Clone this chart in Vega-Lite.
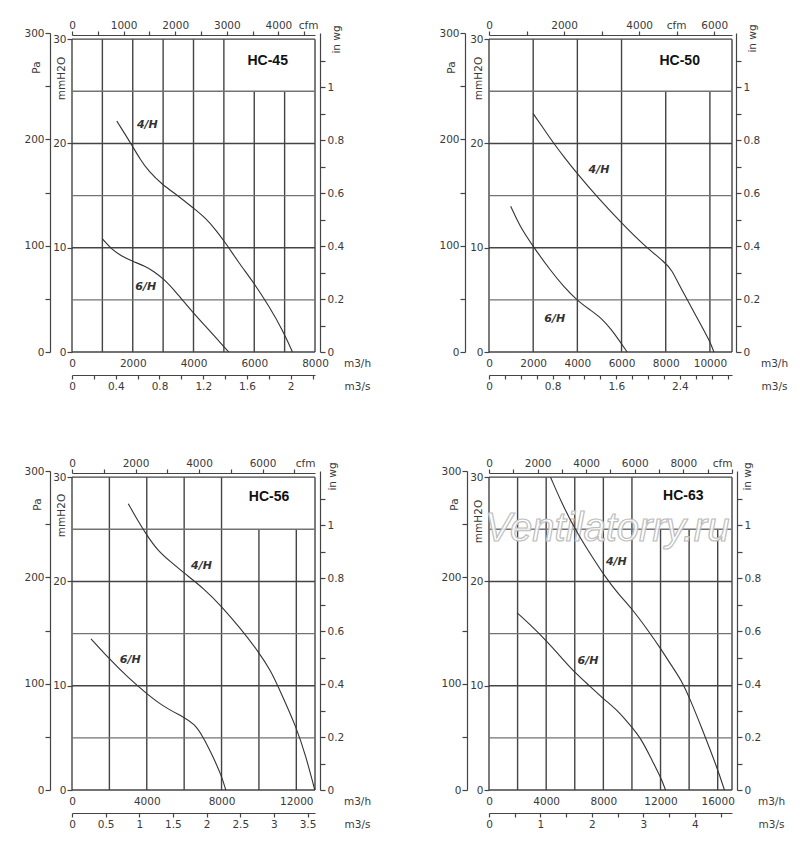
{
  "$schema": "https://vega.github.io/schema/vega-lite/v6.json",
  "background": "white",
  "padding": {"left": 23, "top": 20, "right": 5, "bottom": 5},
  "datasets": {
    "axes": [{"v": 0}],
    "curves": [
      {"panel": "HC-45", "series": "4/H", "x": 1476, "y": 22.14},
      {"panel": "HC-45", "series": "4/H", "x": 1993, "y": 19.74},
      {"panel": "HC-45", "series": "4/H", "x": 2247, "y": 18.46},
      {"panel": "HC-45", "series": "4/H", "x": 2522, "y": 17.34},
      {"panel": "HC-45", "series": "4/H", "x": 2963, "y": 16.06},
      {"panel": "HC-45", "series": "4/H", "x": 3513, "y": 14.94},
      {"panel": "HC-45", "series": "4/H", "x": 3987, "y": 13.82},
      {"panel": "HC-45", "series": "4/H", "x": 4394, "y": 12.86},
      {"panel": "HC-45", "series": "4/H", "x": 4725, "y": 11.74},
      {"panel": "HC-45", "series": "4/H", "x": 5055, "y": 10.46},
      {"panel": "HC-45", "series": "4/H", "x": 5496, "y": 8.54},
      {"panel": "HC-45", "series": "4/H", "x": 5991, "y": 6.62},
      {"panel": "HC-45", "series": "4/H", "x": 6487, "y": 4.38},
      {"panel": "HC-45", "series": "4/H", "x": 6927, "y": 2.14},
      {"panel": "HC-45", "series": "4/H", "x": 7258, "y": 0},
      {"panel": "HC-45", "series": "6/H", "x": 1002, "y": 10.85},
      {"panel": "HC-45", "series": "6/H", "x": 1311, "y": 9.82},
      {"panel": "HC-45", "series": "6/H", "x": 1641, "y": 9.18},
      {"panel": "HC-45", "series": "6/H", "x": 1993, "y": 8.7},
      {"panel": "HC-45", "series": "6/H", "x": 2412, "y": 8.22},
      {"panel": "HC-45", "series": "6/H", "x": 2687, "y": 7.74},
      {"panel": "HC-45", "series": "6/H", "x": 3018, "y": 7.01},
      {"panel": "HC-45", "series": "6/H", "x": 3403, "y": 5.82},
      {"panel": "HC-45", "series": "6/H", "x": 3987, "y": 3.74},
      {"panel": "HC-45", "series": "6/H", "x": 4504, "y": 2.14},
      {"panel": "HC-45", "series": "6/H", "x": 4890, "y": 0.86},
      {"panel": "HC-45", "series": "6/H", "x": 5165, "y": 0},
      {"panel": "HC-50", "series": "4/H", "x": 1994, "y": 22.88},
      {"panel": "HC-50", "series": "4/H", "x": 2447, "y": 21.5},
      {"panel": "HC-50", "series": "4/H", "x": 2931, "y": 20.0},
      {"panel": "HC-50", "series": "4/H", "x": 3429, "y": 18.62},
      {"panel": "HC-50", "series": "4/H", "x": 3988, "y": 17.12},
      {"panel": "HC-50", "series": "4/H", "x": 4864, "y": 14.94},
      {"panel": "HC-50", "series": "4/H", "x": 5997, "y": 12.38},
      {"panel": "HC-50", "series": "4/H", "x": 6979, "y": 10.3},
      {"panel": "HC-50", "series": "4/H", "x": 7991, "y": 8.54},
      {"panel": "HC-50", "series": "4/H", "x": 8263, "y": 7.9},
      {"panel": "HC-50", "series": "4/H", "x": 8640, "y": 6.3},
      {"panel": "HC-50", "series": "4/H", "x": 9018, "y": 4.86},
      {"panel": "HC-50", "series": "4/H", "x": 9547, "y": 2.78},
      {"panel": "HC-50", "series": "4/H", "x": 10000, "y": 1.02},
      {"panel": "HC-50", "series": "4/H", "x": 10181, "y": 0},
      {"panel": "HC-50", "series": "6/H", "x": 982, "y": 13.98},
      {"panel": "HC-50", "series": "6/H", "x": 1390, "y": 12.06},
      {"panel": "HC-50", "series": "6/H", "x": 1994, "y": 10.14},
      {"panel": "HC-50", "series": "6/H", "x": 2749, "y": 7.9},
      {"panel": "HC-50", "series": "6/H", "x": 3429, "y": 6.14},
      {"panel": "HC-50", "series": "6/H", "x": 3988, "y": 4.96},
      {"panel": "HC-50", "series": "6/H", "x": 4562, "y": 4.06},
      {"panel": "HC-50", "series": "6/H", "x": 5091, "y": 3.26},
      {"panel": "HC-50", "series": "6/H", "x": 5544, "y": 2.14},
      {"panel": "HC-50", "series": "6/H", "x": 5921, "y": 1.02},
      {"panel": "HC-50", "series": "6/H", "x": 6254, "y": 0},
      {"panel": "HC-56", "series": "4/H", "x": 3010, "y": 27.46},
      {"panel": "HC-56", "series": "4/H", "x": 3508, "y": 25.86},
      {"panel": "HC-56", "series": "4/H", "x": 4007, "y": 24.42},
      {"panel": "HC-56", "series": "4/H", "x": 4577, "y": 22.98},
      {"panel": "HC-56", "series": "4/H", "x": 5289, "y": 21.86},
      {"panel": "HC-56", "series": "4/H", "x": 6002, "y": 20.8},
      {"panel": "HC-56", "series": "4/H", "x": 7070, "y": 19.3},
      {"panel": "HC-56", "series": "4/H", "x": 7996, "y": 17.63},
      {"panel": "HC-56", "series": "4/H", "x": 9029, "y": 15.46},
      {"panel": "HC-56", "series": "4/H", "x": 9991, "y": 13.22},
      {"panel": "HC-56", "series": "4/H", "x": 10632, "y": 11.46},
      {"panel": "HC-56", "series": "4/H", "x": 11166, "y": 9.38},
      {"panel": "HC-56", "series": "4/H", "x": 12003, "y": 6.02},
      {"panel": "HC-56", "series": "4/H", "x": 12502, "y": 3.3},
      {"panel": "HC-56", "series": "4/H", "x": 12990, "y": 0},
      {"panel": "HC-56", "series": "6/H", "x": 1015, "y": 14.5},
      {"panel": "HC-56", "series": "6/H", "x": 1906, "y": 12.74},
      {"panel": "HC-56", "series": "6/H", "x": 2974, "y": 10.82},
      {"panel": "HC-56", "series": "6/H", "x": 4007, "y": 9.22},
      {"panel": "HC-56", "series": "6/H", "x": 4933, "y": 7.94},
      {"panel": "HC-56", "series": "6/H", "x": 6002, "y": 6.98},
      {"panel": "HC-56", "series": "6/H", "x": 6536, "y": 6.34},
      {"panel": "HC-56", "series": "6/H", "x": 6981, "y": 5.22},
      {"panel": "HC-56", "series": "6/H", "x": 7516, "y": 3.3},
      {"panel": "HC-56", "series": "6/H", "x": 7996, "y": 1.38},
      {"panel": "HC-56", "series": "6/H", "x": 8228, "y": 0},
      {"panel": "HC-63", "series": "4/H", "x": 4304, "y": 30.0},
      {"panel": "HC-63", "series": "4/H", "x": 5053, "y": 27.63},
      {"panel": "HC-63", "series": "4/H", "x": 5988, "y": 25.06},
      {"panel": "HC-63", "series": "4/H", "x": 6924, "y": 22.98},
      {"panel": "HC-63", "series": "4/H", "x": 8023, "y": 20.64},
      {"panel": "HC-63", "series": "4/H", "x": 9029, "y": 18.81},
      {"panel": "HC-63", "series": "4/H", "x": 10012, "y": 17.37},
      {"panel": "HC-63", "series": "4/H", "x": 11135, "y": 15.29},
      {"panel": "HC-63", "series": "4/H", "x": 12023, "y": 13.53},
      {"panel": "HC-63", "series": "4/H", "x": 12772, "y": 11.92},
      {"panel": "HC-63", "series": "4/H", "x": 13474, "y": 10.48},
      {"panel": "HC-63", "series": "4/H", "x": 14012, "y": 8.88},
      {"panel": "HC-63", "series": "4/H", "x": 14877, "y": 5.99},
      {"panel": "HC-63", "series": "4/H", "x": 16000, "y": 1.99},
      {"panel": "HC-63", "series": "4/H", "x": 16468, "y": 0},
      {"panel": "HC-63", "series": "6/H", "x": 1965, "y": 16.99},
      {"panel": "HC-63", "series": "6/H", "x": 2947, "y": 15.77},
      {"panel": "HC-63", "series": "6/H", "x": 4000, "y": 14.33},
      {"panel": "HC-63", "series": "6/H", "x": 5053, "y": 12.72},
      {"panel": "HC-63", "series": "6/H", "x": 5988, "y": 11.28},
      {"panel": "HC-63", "series": "6/H", "x": 7158, "y": 9.84},
      {"panel": "HC-63", "series": "6/H", "x": 8023, "y": 8.72},
      {"panel": "HC-63", "series": "6/H", "x": 9029, "y": 7.6},
      {"panel": "HC-63", "series": "6/H", "x": 10012, "y": 5.99},
      {"panel": "HC-63", "series": "6/H", "x": 10667, "y": 4.87},
      {"panel": "HC-63", "series": "6/H", "x": 11368, "y": 2.95},
      {"panel": "HC-63", "series": "6/H", "x": 12023, "y": 1.19},
      {"panel": "HC-63", "series": "6/H", "x": 12351, "y": 0}
    ],
    "labels": [
      {"panel": "HC-45", "kind": "curve", "text": "4/H", "x": 2480, "y": 21.8},
      {"panel": "HC-45", "kind": "curve", "text": "6/H", "x": 2430, "y": 6.2},
      {"panel": "HC-45", "kind": "title", "text": "HC-45", "x": 6443, "y": 27.95},
      {"panel": "HC-50", "kind": "curve", "text": "4/H", "x": 4980, "y": 17.5},
      {"panel": "HC-50", "kind": "curve", "text": "6/H", "x": 2976, "y": 3.2},
      {"panel": "HC-50", "kind": "title", "text": "HC-50", "x": 8633, "y": 27.95},
      {"panel": "HC-56", "kind": "curve", "text": "4/H", "x": 6928, "y": 21.5},
      {"panel": "HC-56", "kind": "curve", "text": "6/H", "x": 3117, "y": 12.5},
      {"panel": "HC-56", "kind": "title", "text": "HC-56", "x": 10543, "y": 28.1},
      {"panel": "HC-63", "kind": "curve", "text": "4/H", "x": 8912, "y": 21.86},
      {"panel": "HC-63", "kind": "curve", "text": "6/H", "x": 6924, "y": 12.4},
      {"panel": "HC-63", "kind": "title", "text": "HC-63", "x": 13591, "y": 28.2},
      {"panel": "HC-63", "kind": "mark", "text": "Ventilatorry.ru", "x": 8266, "y": 23.9}
    ],
    "grid": [
      {"panel": "HC-45", "kind": "line", "x": 0, "x2": 0, "y": 0, "y2": 30},
      {"panel": "HC-45", "kind": "line", "x": 1000, "x2": 1000, "y": 0, "y2": 30},
      {"panel": "HC-45", "kind": "line", "x": 2000, "x2": 2000, "y": 0, "y2": 30},
      {"panel": "HC-45", "kind": "line", "x": 3000, "x2": 3000, "y": 0, "y2": 30},
      {"panel": "HC-45", "kind": "line", "x": 4000, "x2": 4000, "y": 0, "y2": 30},
      {"panel": "HC-45", "kind": "line", "x": 5000, "x2": 5000, "y": 0, "y2": 30},
      {"panel": "HC-45", "kind": "line", "x": 6000, "x2": 6000, "y": 0, "y2": 25},
      {"panel": "HC-45", "kind": "line", "x": 7000, "x2": 7000, "y": 0, "y2": 25},
      {"panel": "HC-45", "kind": "line", "x": 8000, "x2": 8000, "y": 0, "y2": 30},
      {"panel": "HC-45", "kind": "line", "x": 0, "x2": 8000, "y": 0, "y2": 0},
      {"panel": "HC-45", "kind": "half", "x": 0, "x2": 8000, "y": 5, "y2": 5},
      {"panel": "HC-45", "kind": "line", "x": 0, "x2": 8000, "y": 10, "y2": 10},
      {"panel": "HC-45", "kind": "half", "x": 0, "x2": 8000, "y": 15, "y2": 15},
      {"panel": "HC-45", "kind": "line", "x": 0, "x2": 8000, "y": 20, "y2": 20},
      {"panel": "HC-45", "kind": "half", "x": 0, "x2": 8000, "y": 25, "y2": 25},
      {"panel": "HC-45", "kind": "line", "x": 0, "x2": 8000, "y": 30, "y2": 30},
      {"panel": "HC-50", "kind": "line", "x": 0, "x2": 0, "y": 0, "y2": 30},
      {"panel": "HC-50", "kind": "line", "x": 2000, "x2": 2000, "y": 0, "y2": 30},
      {"panel": "HC-50", "kind": "line", "x": 4000, "x2": 4000, "y": 0, "y2": 30},
      {"panel": "HC-50", "kind": "line", "x": 6000, "x2": 6000, "y": 0, "y2": 30},
      {"panel": "HC-50", "kind": "line", "x": 8000, "x2": 8000, "y": 0, "y2": 25},
      {"panel": "HC-50", "kind": "line", "x": 10000, "x2": 10000, "y": 0, "y2": 25},
      {"panel": "HC-50", "kind": "line", "x": 11000, "x2": 11000, "y": 0, "y2": 30},
      {"panel": "HC-50", "kind": "line", "x": 0, "x2": 11000, "y": 0, "y2": 0},
      {"panel": "HC-50", "kind": "half", "x": 0, "x2": 11000, "y": 5, "y2": 5},
      {"panel": "HC-50", "kind": "line", "x": 0, "x2": 11000, "y": 10, "y2": 10},
      {"panel": "HC-50", "kind": "half", "x": 0, "x2": 11000, "y": 15, "y2": 15},
      {"panel": "HC-50", "kind": "line", "x": 0, "x2": 11000, "y": 20, "y2": 20},
      {"panel": "HC-50", "kind": "half", "x": 0, "x2": 11000, "y": 25, "y2": 25},
      {"panel": "HC-50", "kind": "line", "x": 0, "x2": 11000, "y": 30, "y2": 30},
      {"panel": "HC-56", "kind": "line", "x": 0, "x2": 0, "y": 0, "y2": 30},
      {"panel": "HC-56", "kind": "line", "x": 2000, "x2": 2000, "y": 0, "y2": 30},
      {"panel": "HC-56", "kind": "line", "x": 4000, "x2": 4000, "y": 0, "y2": 30},
      {"panel": "HC-56", "kind": "line", "x": 6000, "x2": 6000, "y": 0, "y2": 30},
      {"panel": "HC-56", "kind": "line", "x": 8000, "x2": 8000, "y": 0, "y2": 30},
      {"panel": "HC-56", "kind": "line", "x": 10000, "x2": 10000, "y": 0, "y2": 25},
      {"panel": "HC-56", "kind": "line", "x": 12000, "x2": 12000, "y": 0, "y2": 25},
      {"panel": "HC-56", "kind": "line", "x": 13000, "x2": 13000, "y": 0, "y2": 30},
      {"panel": "HC-56", "kind": "line", "x": 0, "x2": 13000, "y": 0, "y2": 0},
      {"panel": "HC-56", "kind": "half", "x": 0, "x2": 13000, "y": 5, "y2": 5},
      {"panel": "HC-56", "kind": "line", "x": 0, "x2": 13000, "y": 10, "y2": 10},
      {"panel": "HC-56", "kind": "half", "x": 0, "x2": 13000, "y": 15, "y2": 15},
      {"panel": "HC-56", "kind": "line", "x": 0, "x2": 13000, "y": 20, "y2": 20},
      {"panel": "HC-56", "kind": "half", "x": 0, "x2": 13000, "y": 25, "y2": 25},
      {"panel": "HC-56", "kind": "line", "x": 0, "x2": 13000, "y": 30, "y2": 30},
      {"panel": "HC-63", "kind": "line", "x": 0, "x2": 0, "y": 0, "y2": 30},
      {"panel": "HC-63", "kind": "line", "x": 2000, "x2": 2000, "y": 0, "y2": 30},
      {"panel": "HC-63", "kind": "line", "x": 4000, "x2": 4000, "y": 0, "y2": 30},
      {"panel": "HC-63", "kind": "line", "x": 6000, "x2": 6000, "y": 0, "y2": 30},
      {"panel": "HC-63", "kind": "line", "x": 8000, "x2": 8000, "y": 0, "y2": 30},
      {"panel": "HC-63", "kind": "line", "x": 10000, "x2": 10000, "y": 0, "y2": 30},
      {"panel": "HC-63", "kind": "line", "x": 12000, "x2": 12000, "y": 0, "y2": 25},
      {"panel": "HC-63", "kind": "line", "x": 14000, "x2": 14000, "y": 0, "y2": 25},
      {"panel": "HC-63", "kind": "line", "x": 16000, "x2": 16000, "y": 0, "y2": 25},
      {"panel": "HC-63", "kind": "line", "x": 17000, "x2": 17000, "y": 0, "y2": 30},
      {"panel": "HC-63", "kind": "line", "x": 0, "x2": 17000, "y": 0, "y2": 0},
      {"panel": "HC-63", "kind": "half", "x": 0, "x2": 17000, "y": 5, "y2": 5},
      {"panel": "HC-63", "kind": "line", "x": 0, "x2": 17000, "y": 10, "y2": 10},
      {"panel": "HC-63", "kind": "half", "x": 0, "x2": 17000, "y": 15, "y2": 15},
      {"panel": "HC-63", "kind": "line", "x": 0, "x2": 17000, "y": 20, "y2": 20},
      {"panel": "HC-63", "kind": "half", "x": 0, "x2": 17000, "y": 25, "y2": 25},
      {"panel": "HC-63", "kind": "line", "x": 0, "x2": 17000, "y": 30, "y2": 30}
    ]
  },
  "columns": 2,
  "bounds": "flush",
  "spacing": {"row": 119, "column": 174},
  "concat": [
    {
      "width": 243,
      "height": 319,
      "layer": [
        {"data": {"name": "grid"}, "transform": [{"filter": "datum.panel == 'HC-45'"}],
          "mark": {"type": "rule", "strokeWidth": 1.4},
          "encoding": {
            "x": {"field": "x", "type": "quantitative", "scale": {"domain": [0, 8000]},
              "axis": {"orient": "bottom", "values": [0, 2000, 4000, 6000, 8000], "format": "d", "domain": false, "ticks": false, "tickSize": 0, "labelPadding": 6, "title": "m3/h", "titleAngle": 0, "titleX": 285, "titleY": 6, "titleAlign": "center", "titleBaseline": "top"}},
            "y": {"field": "y", "type": "quantitative", "scale": {"domain": [0, 30.592]},
              "axis": {"orient": "left", "values": [0, 10, 20, 30], "domain": false, "tickSize": 5, "labelPadding": 1, "title": "mmH2O", "titleAngle": -90, "titleX": -11, "titleY": 45, "titleAlign": "center", "titleBaseline": "middle"}},
            "x2": {"field": "x2"}, "y2": {"field": "y2"},
            "color": {"field": "kind", "type": "nominal", "scale": {"domain": ["line", "half"], "range": ["#444444", "#737373"]}, "legend": null}}},
        {"data": {"name": "curves"}, "transform": [{"filter": "datum.panel == 'HC-45'"}],
          "mark": {"type": "line", "color": "#333", "strokeWidth": 1.1, "interpolate": "basis"},
          "encoding": {
            "x": {"field": "x", "type": "quantitative", "scale": {"domain": [0, 8000]}, "axis": null},
            "y": {"field": "y", "type": "quantitative", "scale": {"domain": [0, 30.592]}, "axis": null},
            "detail": {"field": "series"}}},
        {"data": {"name": "labels"}, "transform": [{"filter": "datum.panel == 'HC-45' && datum.kind == 'curve'"}],
          "mark": {"type": "text", "font": "DejaVu Sans", "fontSize": 11, "fontStyle": "italic", "fontWeight": "bold", "color": "#333"},
          "encoding": {
            "x": {"field": "x", "type": "quantitative", "scale": {"domain": [0, 8000]}, "axis": null},
            "y": {"field": "y", "type": "quantitative", "scale": {"domain": [0, 30.592]}, "axis": null},
            "text": {"field": "text"}}},
        {"data": {"name": "labels"}, "transform": [{"filter": "datum.panel == 'HC-45' && datum.kind == 'title'"}],
          "mark": {"type": "text", "font": "Liberation Sans", "fontSize": 14, "fontWeight": "bold", "color": "#111"},
          "encoding": {
            "x": {"field": "x", "type": "quantitative", "scale": {"domain": [0, 8000]}, "axis": null},
            "y": {"field": "y", "type": "quantitative", "scale": {"domain": [0, 30.592]}, "axis": null},
            "text": {"field": "text"}}},
        {"data": {"name": "axes"}, "mark": {"type": "point", "opacity": 0},
          "encoding": {
            "x": {"field": "v", "type": "quantitative", "scale": {"domain": [0, 1]}, "axis": null},
            "y": {"field": "v", "type": "quantitative", "scale": {"domain": [0, 300]},
            "axis": {"orient": "left", "offset": 22, "values": [0, 50, 100, 150, 200, 250, 300], "labelExpr": "datum.value % 100 == 0 ? datum.label : ''", "tickSize": 5, "labelPadding": 1, "title": "Pa", "titleAngle": -90, "titleX": -13.5, "titleY": 34, "titleAlign": "center", "titleBaseline": "middle"}}}},
        {"data": {"name": "axes"}, "mark": {"type": "point", "opacity": 0},
          "encoding": {
            "x": {"field": "v", "type": "quantitative", "scale": {"domain": [0, 1]}, "axis": null},
            "y": {"field": "v", "type": "quantitative", "scale": {"domain": [0, 1.2044]},
            "axis": {"orient": "right", "offset": 5, "values": [0, 0.1, 0.2, 0.3, 0.4, 0.5, 0.6, 0.7, 0.8, 0.9, 1, 1.1], "format": "~g", "labelExpr": "round(datum.value * 10) % 2 == 0 ? datum.label : ''", "tickSize": 5, "labelPadding": 2, "title": "in wg", "titleAngle": -90, "titleX": 16, "titleY": 6, "titleAlign": "center", "titleBaseline": "middle"}}}},
        {"data": {"name": "axes"}, "mark": {"type": "point", "opacity": 0},
          "encoding": {
            "y": {"field": "v", "type": "quantitative", "scale": {"domain": [0, 1]}, "axis": null},
            "x": {"field": "v", "type": "quantitative", "scale": {"domain": [0, 4708.6]},
            "axis": {"orient": "top", "offset": -2, "values": [0, 500, 1000, 1500, 2000, 2500, 3000, 3500, 4000, 4500], "format": "d", "labelExpr": "datum.value % 1000 == 0 ? datum.label : ''", "tickSize": 4, "labelPadding": 1, "title": "cfm", "titleAngle": 0, "titleX": 236, "titleY": -5, "titleAlign": "center", "titleBaseline": "bottom"}}}},
        {"data": {"name": "axes"}, "mark": {"type": "point", "opacity": 0},
          "encoding": {
            "y": {"field": "v", "type": "quantitative", "scale": {"domain": [0, 1]}, "axis": null},
            "x": {"field": "v", "type": "quantitative", "scale": {"domain": [0, 2.2222]},
            "axis": {"orient": "bottom", "offset": 23, "values": [0, 0.2, 0.4, 0.6, 0.8, 1, 1.2, 1.4, 1.6, 1.8, 2, 2.2], "format": "~g", "labelExpr": "round(datum.value * 10) % 4 == 0 ? datum.label : ''", "tickSize": 4, "labelPadding": 2, "title": "m3/s", "titleAngle": 0, "titleX": 285, "titleY": 6, "titleAlign": "center", "titleBaseline": "top"}}}}
      ],
      "resolve": {"scale": {"x": "independent", "y": "independent"}}
    },
    {
      "width": 243,
      "height": 319,
      "layer": [
        {"data": {"name": "grid"}, "transform": [{"filter": "datum.panel == 'HC-50'"}],
          "mark": {"type": "rule", "strokeWidth": 1.4},
          "encoding": {
            "x": {"field": "x", "type": "quantitative", "scale": {"domain": [0, 11000]},
              "axis": {"orient": "bottom", "values": [0, 2000, 4000, 6000, 8000, 10000], "format": "d", "domain": false, "ticks": false, "tickSize": 0, "labelPadding": 6, "title": "m3/h", "titleAngle": 0, "titleX": 285, "titleY": 6, "titleAlign": "center", "titleBaseline": "top"}},
            "y": {"field": "y", "type": "quantitative", "scale": {"domain": [0, 30.592]},
              "axis": {"orient": "left", "values": [0, 10, 20, 30], "domain": false, "tickSize": 5, "labelPadding": 1, "title": "mmH2O", "titleAngle": -90, "titleX": -11, "titleY": 45, "titleAlign": "center", "titleBaseline": "middle"}},
            "x2": {"field": "x2"}, "y2": {"field": "y2"},
            "color": {"field": "kind", "type": "nominal", "scale": {"domain": ["line", "half"], "range": ["#444444", "#737373"]}, "legend": null}}},
        {"data": {"name": "curves"}, "transform": [{"filter": "datum.panel == 'HC-50'"}],
          "mark": {"type": "line", "color": "#333", "strokeWidth": 1.1, "interpolate": "basis"},
          "encoding": {
            "x": {"field": "x", "type": "quantitative", "scale": {"domain": [0, 11000]}, "axis": null},
            "y": {"field": "y", "type": "quantitative", "scale": {"domain": [0, 30.592]}, "axis": null},
            "detail": {"field": "series"}}},
        {"data": {"name": "labels"}, "transform": [{"filter": "datum.panel == 'HC-50' && datum.kind == 'curve'"}],
          "mark": {"type": "text", "font": "DejaVu Sans", "fontSize": 11, "fontStyle": "italic", "fontWeight": "bold", "color": "#333"},
          "encoding": {
            "x": {"field": "x", "type": "quantitative", "scale": {"domain": [0, 11000]}, "axis": null},
            "y": {"field": "y", "type": "quantitative", "scale": {"domain": [0, 30.592]}, "axis": null},
            "text": {"field": "text"}}},
        {"data": {"name": "labels"}, "transform": [{"filter": "datum.panel == 'HC-50' && datum.kind == 'title'"}],
          "mark": {"type": "text", "font": "Liberation Sans", "fontSize": 14, "fontWeight": "bold", "color": "#111"},
          "encoding": {
            "x": {"field": "x", "type": "quantitative", "scale": {"domain": [0, 11000]}, "axis": null},
            "y": {"field": "y", "type": "quantitative", "scale": {"domain": [0, 30.592]}, "axis": null},
            "text": {"field": "text"}}},
        {"data": {"name": "axes"}, "mark": {"type": "point", "opacity": 0},
          "encoding": {
            "x": {"field": "v", "type": "quantitative", "scale": {"domain": [0, 1]}, "axis": null},
            "y": {"field": "v", "type": "quantitative", "scale": {"domain": [0, 300]},
            "axis": {"orient": "left", "offset": 24, "values": [0, 50, 100, 150, 200, 250, 300], "labelExpr": "datum.value % 100 == 0 ? datum.label : ''", "tickSize": 5, "labelPadding": 1, "title": "Pa", "titleAngle": -90, "titleX": -13.5, "titleY": 34, "titleAlign": "center", "titleBaseline": "middle"}}}},
        {"data": {"name": "axes"}, "mark": {"type": "point", "opacity": 0},
          "encoding": {
            "x": {"field": "v", "type": "quantitative", "scale": {"domain": [0, 1]}, "axis": null},
            "y": {"field": "v", "type": "quantitative", "scale": {"domain": [0, 1.2044]},
            "axis": {"orient": "right", "offset": 4, "values": [0, 0.1, 0.2, 0.3, 0.4, 0.5, 0.6, 0.7, 0.8, 0.9, 1, 1.1], "format": "~g", "labelExpr": "round(datum.value * 10) % 2 == 0 ? datum.label : ''", "tickSize": 5, "labelPadding": 2, "title": "in wg", "titleAngle": -90, "titleX": 16, "titleY": 5, "titleAlign": "center", "titleBaseline": "middle"}}}},
        {"data": {"name": "axes"}, "mark": {"type": "point", "opacity": 0},
          "encoding": {
            "y": {"field": "v", "type": "quantitative", "scale": {"domain": [0, 1]}, "axis": null},
            "x": {"field": "v", "type": "quantitative", "scale": {"domain": [0, 6474.3]},
            "axis": {"orient": "top", "offset": -2, "values": [0, 1000, 2000, 3000, 4000, 5000, 6000], "format": "d", "labelExpr": "datum.value % 2000 == 0 ? datum.label : ''", "tickSize": 4, "labelPadding": 1, "title": "cfm", "titleAngle": 0, "titleX": 187, "titleY": -5, "titleAlign": "center", "titleBaseline": "bottom"}}}},
        {"data": {"name": "axes"}, "mark": {"type": "point", "opacity": 0},
          "encoding": {
            "y": {"field": "v", "type": "quantitative", "scale": {"domain": [0, 1]}, "axis": null},
            "x": {"field": "v", "type": "quantitative", "scale": {"domain": [0, 3.0556]},
            "axis": {"orient": "bottom", "offset": 23, "values": [0, 0.2, 0.4, 0.6, 0.8, 1, 1.2, 1.4, 1.6, 1.8, 2, 2.2, 2.4, 2.6, 2.8, 3], "format": "~g", "labelExpr": "round(datum.value * 10) % 8 == 0 ? datum.label : ''", "tickSize": 4, "labelPadding": 2, "title": "m3/s", "titleAngle": 0, "titleX": 285, "titleY": 6, "titleAlign": "center", "titleBaseline": "top"}}}}
      ],
      "resolve": {"scale": {"x": "independent", "y": "independent"}}
    },
    {
      "width": 243,
      "height": 319,
      "layer": [
        {"data": {"name": "grid"}, "transform": [{"filter": "datum.panel == 'HC-56'"}],
          "mark": {"type": "rule", "strokeWidth": 1.4},
          "encoding": {
            "x": {"field": "x", "type": "quantitative", "scale": {"domain": [0, 13000]},
              "axis": {"orient": "bottom", "values": [0, 4000, 8000, 12000], "format": "d", "domain": false, "ticks": false, "tickSize": 0, "labelPadding": 6, "title": "m3/h", "titleAngle": 0, "titleX": 285, "titleY": 6, "titleAlign": "center", "titleBaseline": "top"}},
            "y": {"field": "y", "type": "quantitative", "scale": {"domain": [0, 30.592]},
              "axis": {"orient": "left", "values": [0, 10, 20, 30], "domain": false, "tickSize": 5, "labelPadding": 1, "title": "mmH2O", "titleAngle": -90, "titleX": -11, "titleY": 44, "titleAlign": "center", "titleBaseline": "middle"}},
            "x2": {"field": "x2"}, "y2": {"field": "y2"},
            "color": {"field": "kind", "type": "nominal", "scale": {"domain": ["line", "half"], "range": ["#444444", "#737373"]}, "legend": null}}},
        {"data": {"name": "curves"}, "transform": [{"filter": "datum.panel == 'HC-56'"}],
          "mark": {"type": "line", "color": "#333", "strokeWidth": 1.1, "interpolate": "basis"},
          "encoding": {
            "x": {"field": "x", "type": "quantitative", "scale": {"domain": [0, 13000]}, "axis": null},
            "y": {"field": "y", "type": "quantitative", "scale": {"domain": [0, 30.592]}, "axis": null},
            "detail": {"field": "series"}}},
        {"data": {"name": "labels"}, "transform": [{"filter": "datum.panel == 'HC-56' && datum.kind == 'curve'"}],
          "mark": {"type": "text", "font": "DejaVu Sans", "fontSize": 11, "fontStyle": "italic", "fontWeight": "bold", "color": "#333"},
          "encoding": {
            "x": {"field": "x", "type": "quantitative", "scale": {"domain": [0, 13000]}, "axis": null},
            "y": {"field": "y", "type": "quantitative", "scale": {"domain": [0, 30.592]}, "axis": null},
            "text": {"field": "text"}}},
        {"data": {"name": "labels"}, "transform": [{"filter": "datum.panel == 'HC-56' && datum.kind == 'title'"}],
          "mark": {"type": "text", "font": "Liberation Sans", "fontSize": 14, "fontWeight": "bold", "color": "#111"},
          "encoding": {
            "x": {"field": "x", "type": "quantitative", "scale": {"domain": [0, 13000]}, "axis": null},
            "y": {"field": "y", "type": "quantitative", "scale": {"domain": [0, 30.592]}, "axis": null},
            "text": {"field": "text"}}},
        {"data": {"name": "axes"}, "mark": {"type": "point", "opacity": 0},
          "encoding": {
            "x": {"field": "v", "type": "quantitative", "scale": {"domain": [0, 1]}, "axis": null},
            "y": {"field": "v", "type": "quantitative", "scale": {"domain": [0, 300]},
            "axis": {"orient": "left", "offset": 22, "values": [0, 50, 100, 150, 200, 250, 300], "labelExpr": "datum.value % 100 == 0 ? datum.label : ''", "tickSize": 5, "labelPadding": 1, "title": "Pa", "titleAngle": -90, "titleX": -12.5, "titleY": 33, "titleAlign": "center", "titleBaseline": "middle"}}}},
        {"data": {"name": "axes"}, "mark": {"type": "point", "opacity": 0},
          "encoding": {
            "x": {"field": "v", "type": "quantitative", "scale": {"domain": [0, 1]}, "axis": null},
            "y": {"field": "v", "type": "quantitative", "scale": {"domain": [0, 1.2044]},
            "axis": {"orient": "right", "offset": 5, "values": [0, 0.1, 0.2, 0.3, 0.4, 0.5, 0.6, 0.7, 0.8, 0.9, 1, 1.1], "format": "~g", "labelExpr": "round(datum.value * 10) % 2 == 0 ? datum.label : ''", "tickSize": 5, "labelPadding": 2, "title": "in wg", "titleAngle": -90, "titleX": 12, "titleY": 5, "titleAlign": "center", "titleBaseline": "middle"}}}},
        {"data": {"name": "axes"}, "mark": {"type": "point", "opacity": 0},
          "encoding": {
            "y": {"field": "v", "type": "quantitative", "scale": {"domain": [0, 1]}, "axis": null},
            "x": {"field": "v", "type": "quantitative", "scale": {"domain": [0, 7651.5]},
            "axis": {"orient": "top", "offset": -2, "values": [0, 1000, 2000, 3000, 4000, 5000, 6000, 7000], "format": "d", "labelExpr": "datum.value % 2000 == 0 ? datum.label : ''", "tickSize": 4, "labelPadding": 1, "title": "cfm", "titleAngle": 0, "titleX": 233, "titleY": -5, "titleAlign": "center", "titleBaseline": "bottom"}}}},
        {"data": {"name": "axes"}, "mark": {"type": "point", "opacity": 0},
          "encoding": {
            "y": {"field": "v", "type": "quantitative", "scale": {"domain": [0, 1]}, "axis": null},
            "x": {"field": "v", "type": "quantitative", "scale": {"domain": [0, 3.6111]},
            "axis": {"orient": "bottom", "offset": 23, "values": [0, 0.5, 1, 1.5, 2, 2.5, 3, 3.5], "format": "~g", "tickSize": 4, "labelPadding": 2, "title": "m3/s", "titleAngle": 0, "titleX": 285, "titleY": 6, "titleAlign": "center", "titleBaseline": "top"}}}}
      ],
      "resolve": {"scale": {"x": "independent", "y": "independent"}}
    },
    {
      "width": 243,
      "height": 319,
      "layer": [
        {"data": {"name": "grid"}, "transform": [{"filter": "datum.panel == 'HC-63'"}],
          "mark": {"type": "rule", "strokeWidth": 1.4},
          "encoding": {
            "x": {"field": "x", "type": "quantitative", "scale": {"domain": [0, 17000]},
              "axis": {"orient": "bottom", "values": [0, 4000, 8000, 12000, 16000], "format": "d", "domain": false, "ticks": false, "tickSize": 0, "labelPadding": 6, "title": "m3/h", "titleAngle": 0, "titleX": 282, "titleY": 6, "titleAlign": "center", "titleBaseline": "top"}},
            "y": {"field": "y", "type": "quantitative", "scale": {"domain": [0, 30.592]},
              "axis": {"orient": "left", "values": [0, 10, 20, 30], "domain": false, "tickSize": 5, "labelPadding": 1, "title": "mmH2O", "titleAngle": -90, "titleX": -11, "titleY": 50, "titleAlign": "center", "titleBaseline": "middle"}},
            "x2": {"field": "x2"}, "y2": {"field": "y2"},
            "color": {"field": "kind", "type": "nominal", "scale": {"domain": ["line", "half"], "range": ["#444444", "#737373"]}, "legend": null}}},
        {"data": {"name": "labels"}, "transform": [{"filter": "datum.panel == 'HC-63' && datum.kind == 'mark'"}],
          "mark": {"type": "text", "font": "Liberation Sans", "fontSize": 40, "fontStyle": "italic", "baseline": "alphabetic", "fill": "#ffffff", "fillOpacity": 0.85, "stroke": "#bdbdbd", "strokeWidth": 1.2},
          "encoding": {
            "x": {"field": "x", "type": "quantitative", "scale": {"domain": [0, 17000]}, "axis": null},
            "y": {"field": "y", "type": "quantitative", "scale": {"domain": [0, 30.592]}, "axis": null},
            "text": {"field": "text"}}},
        {"data": {"name": "curves"}, "transform": [{"filter": "datum.panel == 'HC-63'"}],
          "mark": {"type": "line", "color": "#333", "strokeWidth": 1.1, "interpolate": "basis"},
          "encoding": {
            "x": {"field": "x", "type": "quantitative", "scale": {"domain": [0, 17000]}, "axis": null},
            "y": {"field": "y", "type": "quantitative", "scale": {"domain": [0, 30.592]}, "axis": null},
            "detail": {"field": "series"}}},
        {"data": {"name": "labels"}, "transform": [{"filter": "datum.panel == 'HC-63' && datum.kind == 'curve'"}],
          "mark": {"type": "text", "font": "DejaVu Sans", "fontSize": 11, "fontStyle": "italic", "fontWeight": "bold", "color": "#333"},
          "encoding": {
            "x": {"field": "x", "type": "quantitative", "scale": {"domain": [0, 17000]}, "axis": null},
            "y": {"field": "y", "type": "quantitative", "scale": {"domain": [0, 30.592]}, "axis": null},
            "text": {"field": "text"}}},
        {"data": {"name": "labels"}, "transform": [{"filter": "datum.panel == 'HC-63' && datum.kind == 'title'"}],
          "mark": {"type": "text", "font": "Liberation Sans", "fontSize": 14, "fontWeight": "bold", "color": "#111"},
          "encoding": {
            "x": {"field": "x", "type": "quantitative", "scale": {"domain": [0, 17000]}, "axis": null},
            "y": {"field": "y", "type": "quantitative", "scale": {"domain": [0, 30.592]}, "axis": null},
            "text": {"field": "text"}}},
        {"data": {"name": "axes"}, "mark": {"type": "point", "opacity": 0},
          "encoding": {
            "x": {"field": "v", "type": "quantitative", "scale": {"domain": [0, 1]}, "axis": null},
            "y": {"field": "v", "type": "quantitative", "scale": {"domain": [0, 300]},
            "axis": {"orient": "left", "offset": 22, "values": [0, 50, 100, 150, 200, 250, 300], "labelExpr": "datum.value % 100 == 0 ? datum.label : ''", "tickSize": 5, "labelPadding": 1, "title": "Pa", "titleAngle": -90, "titleX": -13, "titleY": 33, "titleAlign": "center", "titleBaseline": "middle"}}}},
        {"data": {"name": "axes"}, "mark": {"type": "point", "opacity": 0},
          "encoding": {
            "x": {"field": "v", "type": "quantitative", "scale": {"domain": [0, 1]}, "axis": null},
            "y": {"field": "v", "type": "quantitative", "scale": {"domain": [0, 1.2044]},
            "axis": {"orient": "right", "offset": 5, "values": [0, 0.1, 0.2, 0.3, 0.4, 0.5, 0.6, 0.7, 0.8, 0.9, 1, 1.1], "format": "~g", "labelExpr": "round(datum.value * 10) % 2 == 0 ? datum.label : ''", "tickSize": 5, "labelPadding": 2, "title": "in wg", "titleAngle": -90, "titleX": 10, "titleY": 5, "titleAlign": "center", "titleBaseline": "middle"}}}},
        {"data": {"name": "axes"}, "mark": {"type": "point", "opacity": 0},
          "encoding": {
            "y": {"field": "v", "type": "quantitative", "scale": {"domain": [0, 1]}, "axis": null},
            "x": {"field": "v", "type": "quantitative", "scale": {"domain": [0, 10005.8]},
            "axis": {"orient": "top", "offset": -2, "values": [0, 1000, 2000, 3000, 4000, 5000, 6000, 7000, 8000, 9000, 10000], "format": "d", "labelExpr": "datum.value % 2000 == 0 && datum.value < 10000 ? datum.label : ''", "tickSize": 4, "labelPadding": 1, "title": "cfm", "titleAngle": 0, "titleX": 233, "titleY": -5, "titleAlign": "center", "titleBaseline": "bottom"}}}},
        {"data": {"name": "axes"}, "mark": {"type": "point", "opacity": 0},
          "encoding": {
            "y": {"field": "v", "type": "quantitative", "scale": {"domain": [0, 1]}, "axis": null},
            "x": {"field": "v", "type": "quantitative", "scale": {"domain": [0, 4.7222]},
            "axis": {"orient": "bottom", "offset": 23, "values": [0, 0.5, 1, 1.5, 2, 2.5, 3, 3.5, 4, 4.5], "format": "~g", "labelExpr": "datum.value % 1 == 0 ? datum.label : ''", "tickSize": 4, "labelPadding": 2, "title": "m3/s", "titleAngle": 0, "titleX": 282, "titleY": 6, "titleAlign": "center", "titleBaseline": "top"}}}}
      ],
      "resolve": {"scale": {"x": "independent", "y": "independent"}}
    }
  ],
  "config": {
    "view": {"stroke": null},
    "axis": {
      "grid": false,
      "labelFlush": false,
      "labelOverlap": false,
      "domainColor": "#444",
      "domainWidth": 1.2,
      "tickColor": "#444",
      "tickWidth": 1.2,
      "labelFont": "DejaVu Sans",
      "labelFontSize": 10.5,
      "labelColor": "#3a3a3a",
      "titleFont": "DejaVu Sans",
      "titleFontSize": 10.5,
      "titleFontWeight": "normal",
      "titleColor": "#3a3a3a",
      "titlePadding": 0
    }
  }
}
